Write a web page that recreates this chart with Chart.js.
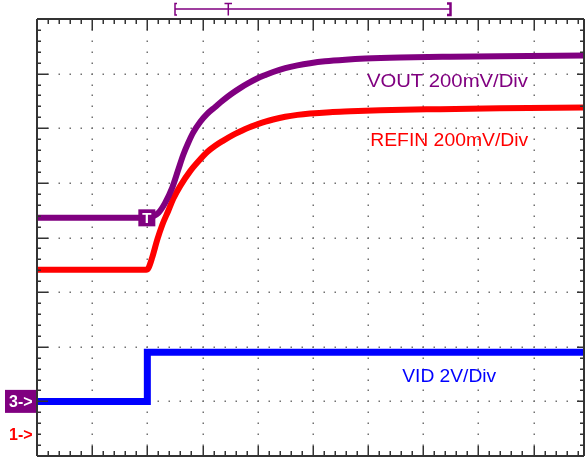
<!DOCTYPE html>
<html><head><meta charset="utf-8">
<script src="https://cdn.jsdelivr.net/npm/chart.js@4"></script>
<style>html,body{margin:0;padding:0;background:#fff;overflow:hidden}canvas{display:block}</style>
</head><body>
<canvas id="c" width="585" height="458"></canvas>
<script>
// Time axis in scope divisions, levels in scope divisions (0 = bottom graticule line)
const voutTime  = [0, 2.00, 2.09, 2.20, 2.32, 2.45, 2.56, 2.65, 2.74, 2.83, 2.96, 3.08, 3.23, 3.37, 3.54, 3.68, 3.83, 3.99, 4.14, 4.28, 4.50, 4.72, 4.95, 5.22, 5.59, 5.95, 6.58, 7.49, 8.39, 9.915];
const voutLevel = [4.36, 4.36, 4.38, 4.45, 4.63, 4.91, 5.24, 5.51, 5.73, 5.92, 6.12, 6.26, 6.39, 6.51, 6.64, 6.735, 6.825, 6.91, 6.975, 7.03, 7.10, 7.15, 7.19, 7.225, 7.255, 7.275, 7.295, 7.31, 7.32, 7.33];

const refinTime  = [0, 1.98, 2.02, 2.09, 2.18, 2.27, 2.38, 2.47, 2.60, 2.78, 2.93, 3.09, 3.23, 3.37, 3.54, 3.68, 3.83, 3.99, 4.14, 4.28, 4.50, 4.72, 4.95, 5.31, 5.68, 6.22, 7.31, 8.39, 9.915];
const refinLevel = [3.41, 3.41, 3.44, 3.64, 3.96, 4.23, 4.49, 4.71, 4.95, 5.22, 5.40, 5.57, 5.68, 5.77, 5.87, 5.94, 6.01, 6.07, 6.12, 6.16, 6.21, 6.245, 6.27, 6.295, 6.31, 6.33, 6.35, 6.365, 6.38];

const vidTime  = [0, 2.00, 2.00, 9.915];
const vidLevel = [1.00, 1.00, 1.90, 1.90];

const traceLabels = ["VOUT 200mV/Div", "REFIN 200mV/Div", "VID 2V/Div"];
const channelMarkers = ["3->", "1->"];
const triggerMark = "T";

const xDivs = 9.915, yDivs = 8;

function pts(xs, ys){ return xs.map((x,i)=>({x:x, y:ys[i]})); }

const PURPLE = '#800080', RED = '#ff0000', BLUE = '#0000ff';

const scopePlugin = {
  id: 'scope',
  beforeDatasetsDraw(chart){
    const {ctx, chartArea:a, scales:{x, y}} = chart;
    ctx.save();
    ctx.fillStyle = '#707070';
    for (let i = 1; i < 10; i++){
      if (i > xDivs) break;
      const px = x.getPixelForValue(i);
      for (let k = 1; k < yDivs*5; k++){
        const py = y.getPixelForValue(k/5);
        ctx.fillRect(Math.round(px)-0.5, Math.round(py)-0.5, 1.5, 1.5);
      }
    }
    for (let j = 1; j < yDivs; j++){
      const py = y.getPixelForValue(j);
      for (let k = 1; k/5 < xDivs; k++){
        const px = x.getPixelForValue(k/5);
        ctx.fillRect(Math.round(px)-0.5, Math.round(py)-0.5, 1.5, 1.5);
      }
    }
    ctx.restore();
  },
  afterDatasetsDraw(chart){
    const {ctx, chartArea:a, scales:{x, y}} = chart;
    ctx.save();
    // frame
    ctx.strokeStyle = '#333';
    ctx.lineWidth = 2;
    ctx.beginPath();
    ctx.moveTo(a.left, a.top); ctx.lineTo(a.right, a.top);
    ctx.moveTo(a.left, a.top); ctx.lineTo(a.left, a.bottom);
    ctx.moveTo(a.left, a.bottom); ctx.lineTo(a.right, a.bottom);
    ctx.moveTo(a.right, a.top); ctx.lineTo(a.right, a.bottom);
    ctx.stroke();
    ctx.lineWidth = 1.5;
    ctx.beginPath();
    for (let k = 1; k/5 < xDivs; k++){
      const px = Math.round(x.getPixelForValue(k/5)) + 0.25;
      const major = k % 5 === 0;
      ctx.moveTo(px, a.top); ctx.lineTo(px, a.top + (major ? 11 : 5));
      ctx.moveTo(px, a.bottom); ctx.lineTo(px, a.bottom - (major ? 10 : 5));
    }
    for (let k = 1; k < yDivs*5; k++){
      const py = Math.round(y.getPixelForValue(k/5)) + 0.25;
      const major = k % 5 === 0;
      ctx.moveTo(a.left, py); ctx.lineTo(a.left + (major ? 11 : 4), py);
      ctx.moveTo(a.right, py); ctx.lineTo(a.right - (major ? 7 : 4), py);
    }
    ctx.stroke();

    // trace labels
    const labelSpecs = [
      {t: traceLabels[0], x: 5.98, y: 6.85, w: 161, c: PURPLE},
      {t: traceLabels[1], x: 6.04, y: 5.76, w: 158, c: RED},
      {t: traceLabels[2], x: 6.62, y: 1.44, w: 94,  c: BLUE}
    ];
    ctx.font = '18px "Liberation Sans", Arial, sans-serif';
    ctx.textBaseline = 'middle';
    ctx.textAlign = 'left';
    labelSpecs.forEach(s => {
      const m = ctx.measureText(s.t).width;
      const px = x.getPixelForValue(s.x), py = y.getPixelForValue(s.y);
      ctx.save();
      ctx.translate(px, py);
      ctx.scale(s.w / m, 1);
      ctx.fillStyle = s.c;
      ctx.fillText(s.t, 0, 0);
      ctx.restore();
    });

    // trigger marker on VOUT
    const tx = x.getPixelForValue(voutTime[1]), ty = y.getPixelForValue(voutLevel[1]);
    ctx.fillStyle = PURPLE;
    ctx.fillRect(tx - 9, ty - 8.5, 17, 17);
    ctx.fillStyle = '#fff';
    ctx.font = 'bold 15px "Liberation Sans", Arial, sans-serif';
    ctx.textAlign = 'center';
    ctx.fillText(triggerMark, tx - 0.5, ty + 1);
    ctx.restore();
  },
  afterDraw(chart){
    const {ctx, scales:{x, y}} = chart;
    ctx.save();
    // channel 3 marker
    const c3y = y.getPixelForValue(vidLevel[0]);
    ctx.fillStyle = PURPLE;
    ctx.fillRect(5, c3y - 11.5, 31, 23);
    ctx.fillStyle = '#fff';
    ctx.font = 'bold 16px "Liberation Sans", Arial, sans-serif';
    ctx.textBaseline = 'middle';
    ctx.textAlign = 'left';
    ctx.fillText(channelMarkers[0], 9, c3y + 1);
    // channel 1 marker
    ctx.fillStyle = RED;
    ctx.fillText(channelMarkers[1], 9, y.getPixelForValue(0.37));
    // trigger position bar at top
    ctx.strokeStyle = PURPLE;
    ctx.lineWidth = 1.5;
    ctx.beginPath();
    ctx.moveTo(177, 3.5); ctx.lineTo(175, 3.5); ctx.lineTo(175, 15); ctx.lineTo(177, 15);
    ctx.moveTo(175, 9); ctx.lineTo(450, 9);
    ctx.moveTo(224.5, 3.5); ctx.lineTo(232, 3.5);
    ctx.moveTo(228.3, 3.5); ctx.lineTo(228.3, 15.5);
    ctx.stroke();
    ctx.lineWidth = 2.5;
    ctx.beginPath();
    ctx.moveTo(447, 3.5); ctx.lineTo(450.5, 3.5); ctx.lineTo(450.5, 15); ctx.lineTo(447, 15);
    ctx.stroke();
    ctx.restore();
  }
};

new Chart(document.getElementById('c'), {
  type: 'scatter',
  data: { datasets: [
    { label: 'VOUT', data: pts(voutTime, voutLevel), borderColor: PURPLE, backgroundColor: PURPLE,
      borderWidth: 6, showLine: true, pointRadius: 0, cubicInterpolationMode: 'monotone', order: 1 },
    { label: 'REFIN', data: pts(refinTime, refinLevel), borderColor: RED, backgroundColor: RED,
      borderWidth: 6, showLine: true, pointRadius: 0, cubicInterpolationMode: 'monotone', order: 2 },
    { label: 'VID', data: pts(vidTime, vidLevel), borderColor: BLUE, backgroundColor: BLUE,
      borderWidth: 7, showLine: true, pointRadius: 0, tension: 0, order: 3 }
  ]},
  options: {
    responsive: false, animation: false, devicePixelRatio: 1,
    layout: { padding: { left: 37, top: 19, right: 1, bottom: 2 } },
    plugins: { legend: { display: false }, tooltip: { enabled: false } },
    scales: {
      x: { type: 'linear', min: 0, max: xDivs, display: false },
      y: { type: 'linear', min: 0, max: yDivs, display: false }
    }
  },
  plugins: [scopePlugin]
});
</script>
</body></html>
